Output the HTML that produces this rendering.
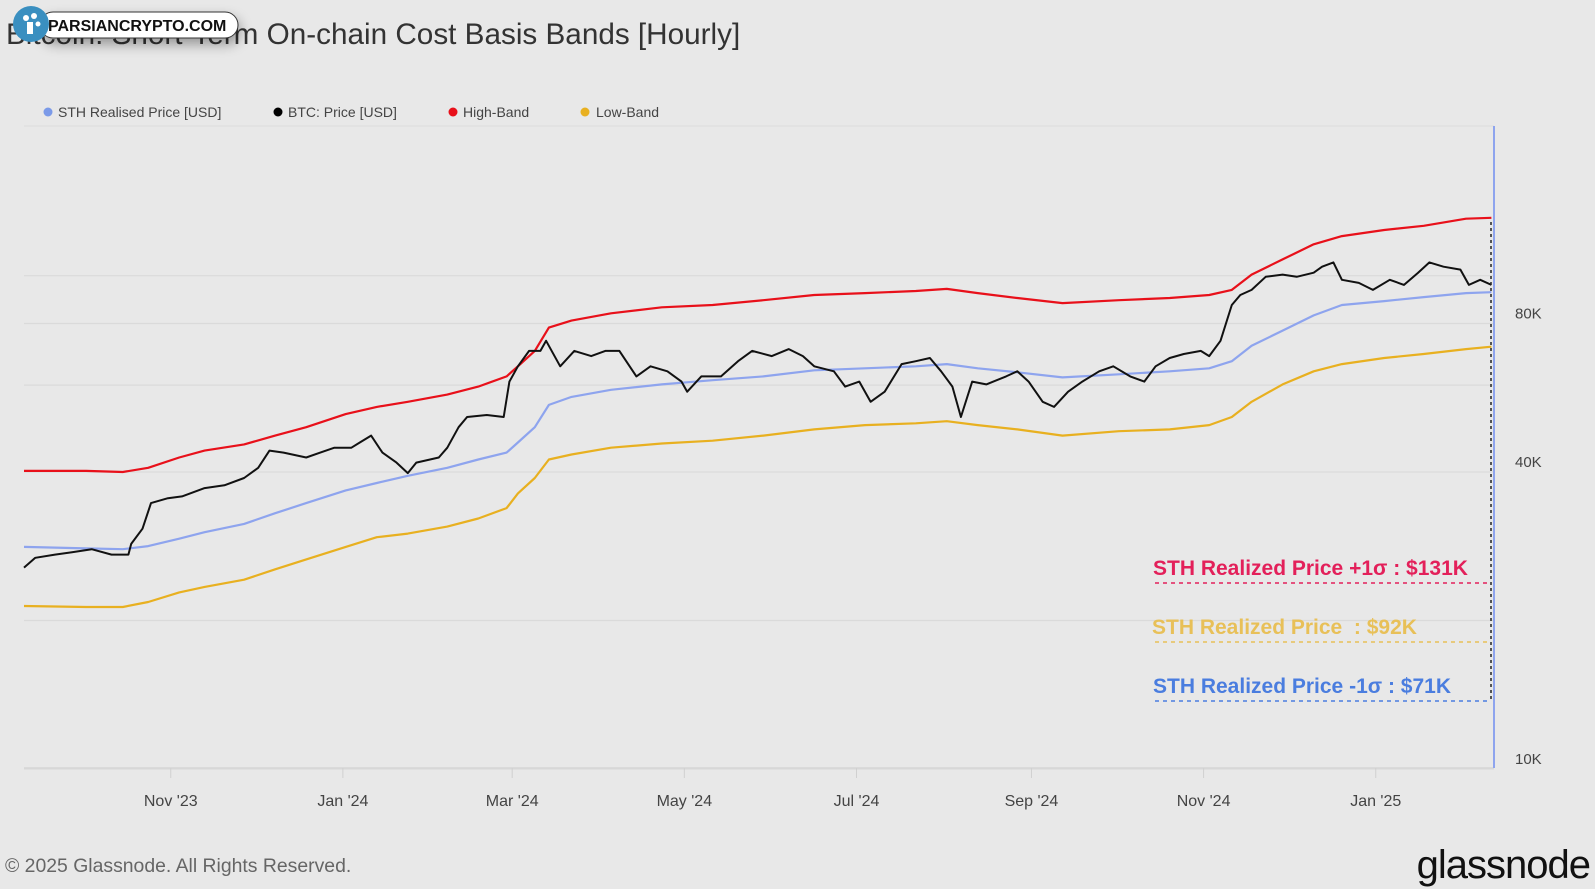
<!DOCTYPE html>
<html><head><meta charset="utf-8">
<style>
html,body{margin:0;padding:0;background:#e8e8e8;}
body{width:1595px;height:889px;overflow:hidden;position:relative;font-family:"Liberation Sans",sans-serif;}
</style></head>
<body>
<svg id="chart" width="1595" height="889" xmlns="http://www.w3.org/2000/svg" style="position:absolute;left:0;top:0">
  <rect width="1595" height="889" fill="#e8e8e8"/>
  <text x="6" y="44" font-size="29.7" fill="#333">Bitcoin: Short-Term On-chain Cost Basis Bands [Hourly]</text>
  <g font-size="14" fill="#444">
    <g><circle cx="48" cy="112" r="4.5" fill="#7b9ae8"/><text x="58" y="117">STH Realised Price [USD]</text></g>
    <g><circle cx="278" cy="112" r="4.5" fill="#000"/><text x="288" y="117">BTC: Price [USD]</text></g>
    <g><circle cx="453" cy="112" r="4.5" fill="#e8101a"/><text x="463" y="117">High-Band</text></g>
    <g><circle cx="585" cy="112" r="4.5" fill="#e8b020"/><text x="596" y="117">Low-Band</text></g>
  </g>
  <g id="grid"></g>
  <g id="xaxis"></g>
  <g id="yaxis"></g>
  <g id="series"></g>
  <line x1="1494" y1="126" x2="1494" y2="768" stroke="#8ea4ee" stroke-width="2"/>
  <line x1="1491" y1="222" x2="1491" y2="702" stroke="#222" stroke-width="1.5" stroke-dasharray="3,3"/>
  <g font-weight="bold" font-size="21">
    <text x="1153" y="575" fill="#e3205a">STH Realized Price +1σ : $131K</text>
    <line x1="1155" y1="583" x2="1490" y2="583" stroke="#e3205a" stroke-width="1.5" stroke-dasharray="4,4"/>
    <text x="1152" y="634" fill="#e8c058" xml:space="preserve">STH Realized Price  : $92K</text>
    <line x1="1155" y1="642" x2="1490" y2="642" stroke="#e8c058" stroke-width="1.5" stroke-dasharray="4,4"/>
    <text x="1153" y="693" fill="#4a7ddf">STH Realized Price -1σ : $71K</text>
    <line x1="1155" y1="701" x2="1490" y2="701" stroke="#4a7ddf" stroke-width="1.5" stroke-dasharray="4,4"/>
  </g>
  <text x="5" y="872" font-size="19.4" fill="#666">© 2025 Glassnode. All Rights Reserved.</text>
  <text x="1590" y="878" font-size="40" text-anchor="end" fill="#111" letter-spacing="-1">glassnode</text>
  <g>
    <rect x="40" y="12" width="198" height="26" rx="13" fill="#fff" stroke="#333" stroke-width="1" style="filter:drop-shadow(2px 6px 6px rgba(0,0,0,0.35))"/>
    <circle cx="31" cy="24" r="18" fill="#3a8fc0"/>
    <circle cx="26" cy="18" r="3" fill="#fff"/><circle cx="34" cy="16" r="3" fill="#fff"/><circle cx="38" cy="24" r="2.5" fill="#fff"/>
    <rect x="27" y="22" width="6" height="12" fill="#fff"/>
    <text x="48" y="31" font-size="16" font-weight="bold" fill="#111">PARSIANCRYPTO.COM</text>
  </g>
</svg>
<script>
// Day offsets from 2023-09-10
const bandDays = [0,22,35,44,55,64,78,89,100,114,125,136,150,161,171,175,181,186,194,208,226,244,262,280,298,316,327,338,352,368,388,406,420,428,435,446,457,467,482,496,511,520];
const highBand = [40.2,40.2,40.0,40.8,42.8,44.2,45.5,47.4,49.3,52.4,54.2,55.5,57.4,59.6,62.5,65.5,70.4,78.5,81.1,83.9,86.3,87.2,89.2,91.4,92.2,93.1,94.0,92.2,90.1,88.0,89.2,90.1,91.4,93.6,100.5,107.9,115.8,120.3,123.8,126.2,130.5,131.0];
const sthPrice = [28.2,28.0,27.9,28.3,29.3,30.2,31.4,33.0,34.6,36.7,38.0,39.3,40.8,42.4,43.8,45.9,49.3,54.7,56.8,58.7,60.2,61.4,62.5,64.3,64.9,65.5,66.2,64.9,63.7,62.2,63.1,64.0,64.9,67.1,72.1,77.4,83.1,87.2,88.8,90.5,92.2,92.6];
const lowBand = [21.4,21.3,21.3,21.8,22.8,23.4,24.2,25.4,26.6,28.2,29.5,30.0,31.0,32.2,33.8,36.2,38.9,42.4,43.4,44.8,45.7,46.3,47.4,48.8,49.8,50.2,50.7,49.8,48.8,47.4,48.4,48.8,49.8,51.7,55.5,60.2,64.0,66.2,68.1,69.4,71.0,71.8];
const btcDays = [0,4,11,17,24,31,37,38,42,45,51,56,64,71,78,83,87,92,100,105,110,116,119,123,127,132,136,139,147,150,154,157,164,170,172,175,179,183,185,190,195,201,206,211,217,222,228,233,235,240,247,253,258,265,271,276,280,287,291,296,300,305,311,316,321,325,329,332,336,341,348,352,356,361,365,370,375,381,386,392,397,401,406,411,417,420,424,428,431,435,440,446,451,457,460,464,467,473,478,484,489,494,498,503,509,512,516,520];
const btcPrice = [25.6,26.8,27.2,27.5,27.9,27.2,27.2,28.6,30.7,34.6,35.4,35.7,37.1,37.6,38.9,40.8,44.2,43.8,42.8,43.8,44.8,44.8,45.9,47.4,43.8,41.8,39.8,41.8,42.8,44.8,49.3,51.7,52.2,51.7,61.0,65.5,70.4,70.4,73.8,65.5,70.4,68.7,70.4,70.4,62.5,65.5,64.0,61.0,58.2,62.5,62.5,67.1,70.4,68.7,71.0,68.7,65.5,64.0,59.6,61.0,55.5,58.2,66.2,67.1,68.1,64.0,59.6,51.7,61.0,60.2,62.5,64.0,61.0,55.5,54.2,58.2,61.0,64.0,65.5,62.5,61.0,65.5,68.1,69.4,70.4,68.7,73.8,87.2,91.4,93.6,99.5,100.5,99.5,101.4,104.3,106.4,98.1,96.7,93.6,98.1,95.8,101.4,106.4,104.3,102.9,95.8,98.1,95.8];
const yTickValues = [10,20,40,60,80,100];
const yTickLabels = ["10K","","40K","","80K",""];
const xTickDates = ["2023-11-01","2024-01-01","2024-03-01","2024-05-01","2024-07-01","2024-09-01","2024-11-01","2025-01-01"];
const xTickLabels = ["Nov '23","Jan '24","Mar '24","May '24","Jul '24","Sep '24","Nov '24","Jan '25"];

const NS = "http://www.w3.org/2000/svg";
const start = Date.UTC(2023,8,10);
const X0 = 24, PXD = 2.822, TOP = 126, BOT = 768;
function xScale(day){ return X0 + day*PXD; }
function yScale(v){ return 472 - Math.log2(v/40)*148.5; }
function mk(tag, attrs){ const e=document.createElementNS(NS,tag); for(const k in attrs) e.setAttribute(k,attrs[k]); return e; }

const grid=document.getElementById('grid'), ya=document.getElementById('yaxis'), xa=document.getElementById('xaxis'), ser=document.getElementById('series');
grid.appendChild(mk('line',{x1:24,x2:1494,y1:TOP,y2:TOP,stroke:'#dcdcdc','stroke-width':1}));
yTickValues.forEach((v,i)=>{
  const y=yScale(v);
  const l=mk('line',{x1:24,x2:1494,y1:y,y2:y,stroke:'#dadada','stroke-width':1.2});
  
  
  grid.appendChild(l);
  if(yTickLabels[i]){
    const t=mk('text',{x:1515,y:y-5,'font-size':15,fill:'#444'});
    
    
    t.textContent=yTickLabels[i]; ya.appendChild(t);
  }
});
xa.appendChild(mk('line',{x1:24,x2:1494,y1:BOT,y2:BOT,stroke:'#d6d6d6','stroke-width':1.5}));
xTickDates.forEach((d,i)=>{
  const p=d.split('-').map(Number);
  const day=(Date.UTC(p[0],p[1]-1,p[2])-start)/86400000;
  const x=xScale(day);
  xa.appendChild(mk('line',{x1:x,x2:x,y1:BOT,y2:BOT+10,stroke:'#d0d0d0','stroke-width':1}));
  const t=mk('text',{x:x,y:806,'font-size':16,fill:'#444','text-anchor':'middle'});
  
  
  t.textContent=xTickLabels[i]; xa.appendChild(t);
});
function line(days, vals, color, name, w){
  const pts=days.map((d,i)=>xScale(d).toFixed(1)+','+yScale(vals[i]).toFixed(1)).join(' ');
  const pl=mk('polyline',{points:pts,fill:'none',stroke:color,'stroke-width':w,'stroke-linejoin':'round'});
  
  
  ser.appendChild(pl);
}
line(bandDays, lowBand, '#e8b020', 'low-band-line', 2.2);
line(bandDays, sthPrice, '#8ea4ee', 'sth-realised-price-line', 2.2);
line(bandDays, highBand, '#e8101a', 'high-band-line', 2.2);
line(btcDays, btcPrice, '#111', 'btc-price-line', 2);
</script>
</body></html>
